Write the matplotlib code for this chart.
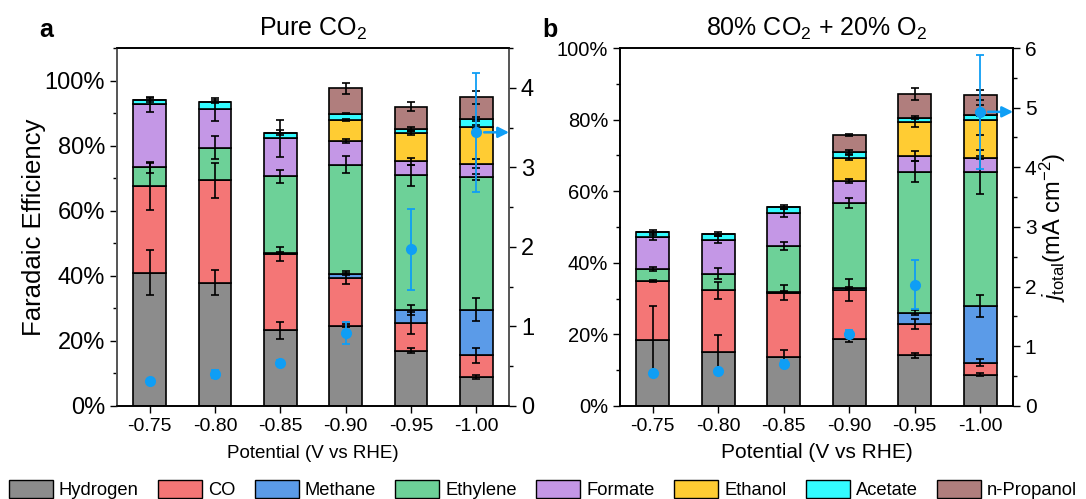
import numpy as np
import matplotlib
matplotlib.use("Agg")
import matplotlib.pyplot as plt
from matplotlib.patches import Patch
from matplotlib.ticker import MultipleLocator, FuncFormatter

plt.rcParams['font.family'] = ['Liberation Sans', 'DejaVu Sans']
plt.rcParams['mathtext.fontset'] = 'custom'
plt.rcParams['mathtext.rm'] = 'Liberation Sans'
plt.rcParams['mathtext.it'] = 'Liberation Sans:italic'

potentials = ['-0.75', '-0.80', '-0.85', '-0.90', '-0.95', '-1.00']
products = ['Hydrogen', 'CO', 'Methane', 'Ethylene', 'Formate', 'Ethanol', 'Acetate', 'n-Propanol']
colors = ['#8c8c8c', '#f47676', '#5b9be8', '#6dd198', '#c497e6', '#ffcc33', '#33fbff', '#b07e7d']

# Faradaic efficiencies (%), pure CO2
h2_a = [41.0, 37.9, 23.2, 24.7, 17.0, 8.9]
co_a = [26.5, 31.5, 23.4, 14.7, 8.4, 6.7]
ch4_a = [0, 0, 0.3, 1.1, 4.0, 14.0]
c2h4_a = [5.9, 10.0, 23.7, 33.7, 41.5, 40.8]
formate_a = [19.3, 11.8, 11.6, 7.3, 4.3, 4.1]
etoh_a = [0, 0, 0, 6.4, 8.7, 11.3]
acetate_a = [1.3, 2.3, 1.8, 1.9, 1.2, 2.4]
propanol_a = [0, 0, 0, 7.9, 6.9, 6.6]

h2_a_err = [6.9, 3.8, 2.6, 0.5, 0.7, 0.5]
co_a_err = [7.2, 5.4, 2.1, 2.0, 3.4, 2.3]
ch4_a_err = [0, 0, 0.3, 0.3, 1.5, 3.6]
c2h4_a_err = [1.7, 3.6, 2.0, 2.5, 3.3, 1.0]
formate_a_err = [2.3, 3.5, 5.7, 0.6, 1.1, 1.3]
etoh_a_err = [0, 0, 0, 0.3, 0.5, 0.5]
acetate_a_err = [0.6, 0.4, 0.7, 0.2, 0.5, 0.5]
propanol_a_err = [0, 0, 0, 1.7, 1.3, 2.0]

j_a = [0.32, 0.40, 0.54, 0.92, 1.97, 3.44]
j_a_err = [0.02, 0.05, 0.04, 0.14, 0.51, 0.75]

# Faradaic efficiencies (%), 80% CO2 + 20% O2
h2_b = [18.3, 15.0, 13.6, 18.6, 14.2, 8.7]
co_b = [16.7, 17.3, 18.1, 13.7, 8.6, 3.4]
ch4_b = [0, 0, 0.2, 0.6, 3.3, 15.8]
c2h4_b = [3.3, 4.7, 12.8, 23.9, 39.4, 37.4]
formate_b = [9.0, 9.5, 9.2, 6.1, 4.3, 4.1]
etoh_b = [0, 0, 0, 6.5, 9.4, 10.4]
acetate_b = [1.2, 1.6, 1.7, 1.5, 1.3, 1.5]
propanol_b = [0, 0, 0, 4.8, 6.6, 5.6]

h2_b_err = [9.7, 4.9, 1.9, 0.8, 0.7, 0.4]
co_b_err = [0.3, 2.3, 2.1, 3.1, 1.4, 0.9]
ch4_b_err = [0, 0, 0.1, 0.3, 0.6, 3.0]
c2h4_b_err = [0.6, 1.6, 1.2, 1.4, 2.8, 6.2]
formate_b_err = [1.0, 1.0, 1.0, 0.6, 1.3, 0.3]
etoh_b_err = [0, 0, 0, 0.8, 1.2, 4.2]
acetate_b_err = [0.6, 0.5, 0.5, 0.5, 0.4, 0.3]
propanol_b_err = [0, 0, 0, 0.3, 1.6, 1.4]

j_b = [0.56, 0.58, 0.71, 1.21, 2.03, 4.93]
j_b_err = [0.02, 0.03, 0.06, 0.06, 0.41, 0.95]

fe_a = [h2_a, co_a, ch4_a, c2h4_a, formate_a, etoh_a, acetate_a, propanol_a]
err_a = [h2_a_err, co_a_err, ch4_a_err, c2h4_a_err, formate_a_err, etoh_a_err, acetate_a_err, propanol_a_err]
fe_b = [h2_b, co_b, ch4_b, c2h4_b, formate_b, etoh_b, acetate_b, propanol_b]
err_b = [h2_b_err, co_b_err, ch4_b_err, c2h4_b_err, formate_b_err, etoh_b_err, acetate_b_err, propanol_b_err]

jblue = '#0f9ef5'

fig = plt.figure(figsize=(10.86, 4.99), dpi=100)
ax_a = fig.add_axes([0.1077, 0.1864, 0.361, 0.7174])
ax_b = fig.add_axes([0.5709, 0.1864, 0.3619, 0.7174])


def draw_panel(ax, fe, err, j, jerr, ymax, jmax, title, tick_fs, rtick_fs, spine_col):
    x = np.arange(len(potentials))
    bottom = np.zeros(len(x))
    tops = []
    for vals, c in zip(fe, colors):
        vals = np.array(vals, dtype=float)
        ax.bar(x, vals, 0.5, bottom=bottom, color=c, edgecolor='k', linewidth=1.2, zorder=2)
        bottom = bottom + vals
        tops.append(bottom.copy())
    # error bars sit on top of every segment
    for top, e in zip(tops, err):
        e = np.array(e, dtype=float)
        m = e > 0
        ax.errorbar(x[m], top[m], yerr=e[m], fmt='none', ecolor='k', elinewidth=1.2,
                    capsize=3, capthick=1.2, zorder=4)
    ax.set_xlim(-0.5, 5.5)
    ax.set_ylim(0, ymax)
    ax.set_xticks(x)
    ax.set_xticklabels(potentials, fontsize=14)
    ax.yaxis.set_major_locator(MultipleLocator(20))
    ax.yaxis.set_minor_locator(MultipleLocator(10))
    ax.yaxis.set_major_formatter(FuncFormatter(lambda v, p: f'{v:.0f}%'))
    ax.tick_params(axis='y', labelsize=tick_fs)
    ax.tick_params(which='major', direction='out', length=5, width=1)
    ax.tick_params(which='minor', direction='out', length=3, width=1)
    ax.set_title(title, fontsize=18, pad=9)
    for s in ax.spines.values():
        s.set_linewidth(1.2)
    ax.spines['left'].set_color(spine_col)
    ax.spines['right'].set_color(spine_col)

    tw = ax.twinx()
    tw.errorbar(x, j, yerr=jerr, fmt='o', color=jblue, ms=7, elinewidth=1.3,
                capsize=3, capthick=1.3, zorder=5)
    tw.annotate('', xy=(5.5, j[-1]), xytext=(5.12, j[-1]),
                arrowprops=dict(arrowstyle='-|>', color=jblue, lw=1.8,
                                mutation_scale=16, shrinkA=0, shrinkB=0))
    tw.set_ylim(0, jmax)
    tw.yaxis.set_major_locator(MultipleLocator(1))
    tw.yaxis.set_minor_locator(MultipleLocator(0.5))
    tw.tick_params(axis='y', labelsize=rtick_fs)
    tw.tick_params(which='major', direction='out', length=5, width=1)
    tw.tick_params(which='minor', direction='out', length=3, width=1)
    for s in tw.spines.values():
        s.set_linewidth(1.2)
    tw.spines['right'].set_color(spine_col)
    tw.spines['left'].set_color(spine_col)
    return tw


tw_a = draw_panel(ax_a, fe_a, err_a, j_a, j_a_err, 110, 4.5, 'Pure CO$_2$', 17, 17, '#555555')
tw_b = draw_panel(ax_b, fe_b, err_b, j_b, j_b_err, 100, 6, '80% CO$_2$ + 20% O$_2$', 14.5, 15, 'k')

ax_a.set_ylabel('Faradaic Efficiency', fontsize=18.5, labelpad=-1)
ax_a.set_xlabel('Potential (V vs RHE)', fontsize=13.5, labelpad=7)
ax_b.set_xlabel('Potential (V vs RHE)', fontsize=15, labelpad=6)
tw_b.set_ylabel('$j_{\\mathrm{total}}$(mA cm$^{-2}$)', fontsize=17, labelpad=1)

fig.text(46 / 1086, 1 - 37 / 499, 'a', fontsize=18, fontweight='bold', ha='center', va='baseline')
fig.text(550 / 1086, 1 - 37 / 499, 'b', fontsize=18, fontweight='bold', ha='center', va='baseline')

handles = [Patch(facecolor=c, edgecolor='k', linewidth=1) for c in colors]
fig.legend(handles, products, loc='lower center', bbox_to_anchor=(0.5, -0.004), ncol=8,
           frameon=False, fontsize=13.2, handlelength=2.4, handleheight=1.1,
           handletextpad=0.33, columnspacing=1.05, borderaxespad=0, borderpad=0.1)

fig.savefig('out.png', dpi=100)
